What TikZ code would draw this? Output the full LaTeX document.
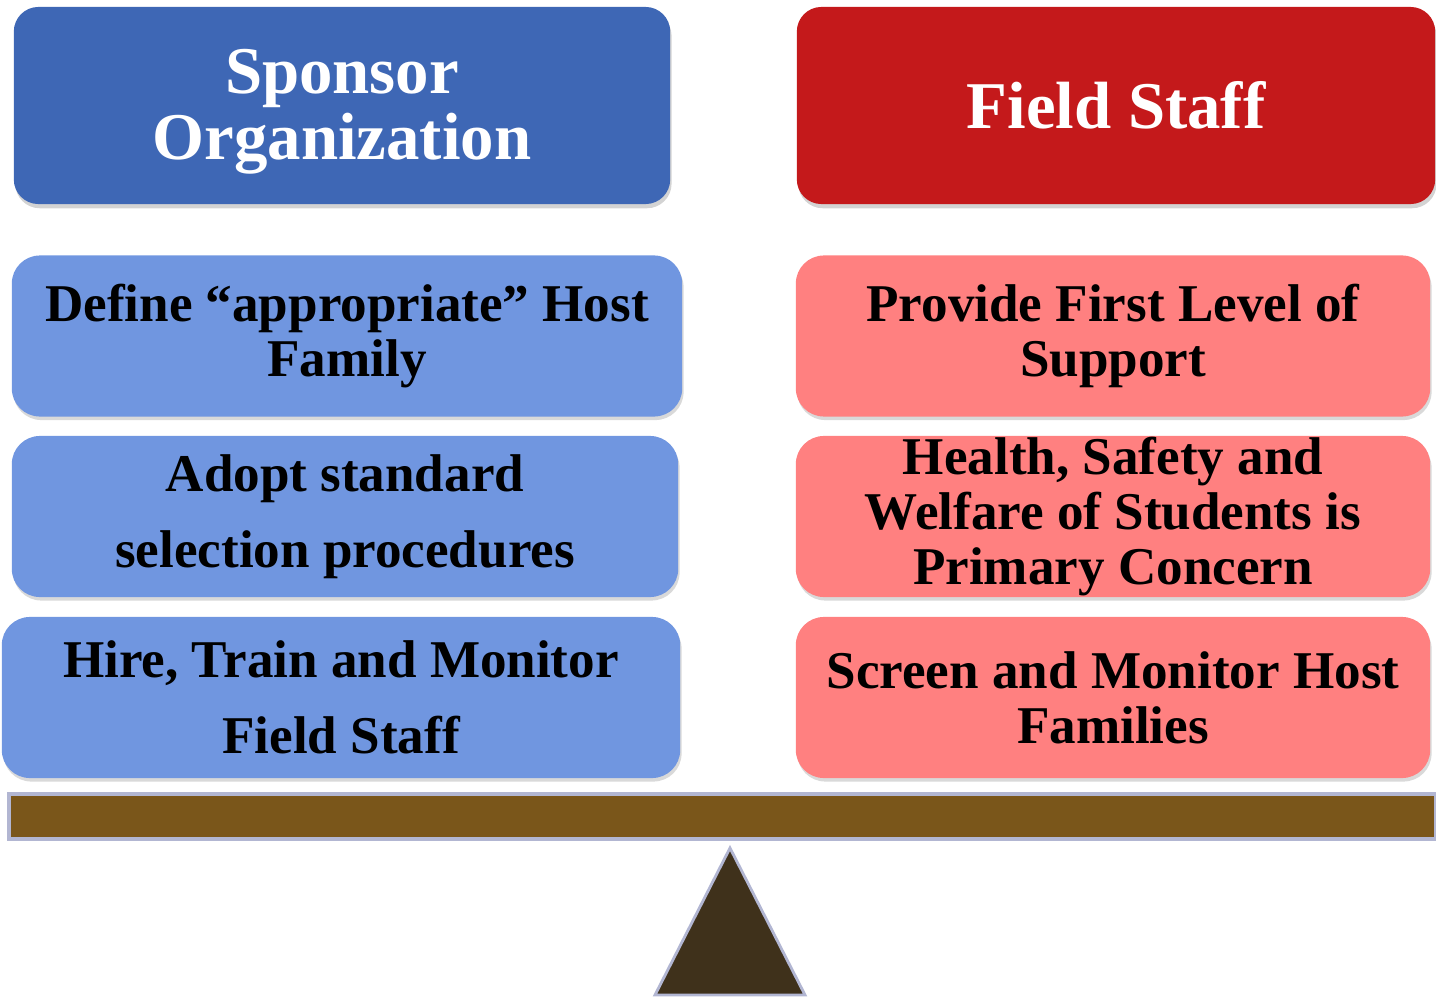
\documentclass[tikz,border=0pt]{standalone}
\usepackage{fontspec}
\setmainfont{Liberation Serif}
\usetikzlibrary{shadows}
\definecolor{hdblue}{HTML}{3E67B5}
\definecolor{hdred}{HTML}{C4191B}
\definecolor{bxblue}{HTML}{7096E0}
\definecolor{bxred}{HTML}{FF8080}
\definecolor{beamc}{HTML}{7A561A}
\definecolor{pivotc}{HTML}{3F311B}
\definecolor{edgec}{HTML}{B2B6D2}
\begin{document}
\begin{tikzpicture}[x=0.01cm,y=-0.01cm,
  head/.style={shape=rectangle,rounded corners=7pt,text=white,align=center,
    font=\bfseries\fontsize{19}{18.9}\selectfont,minimum height=1.97cm,
    drop shadow={opacity=0.35,shadow xshift=0.4pt,shadow yshift=-1.2pt}},
  headS/.style={head,fill=hdblue,minimum width=6.56cm},
  headF/.style={head,fill=hdred,minimum width=6.38cm},
  item/.style={shape=rectangle,rounded corners=8pt,text=black,align=center,
    font=\bfseries\fontsize{15.1}{15.6}\selectfont,minimum height=1.61cm,inner ysep=0pt,
    drop shadow={opacity=0.3,shadow xshift=0.4pt,shadow yshift=-1pt}},
  itemS/.style={item,fill=bxblue},
  itemF/.style={item,fill=bxred,minimum width=6.34cm}]
\useasboundingbox (0,0) rectangle (1436,997);

% headers
\node[headS] (S) at (342,105.5) {\rule{0pt}{0.85em}Sponsor\\Organization};
\node[headF] (F) at (1116,105.5) {Field Staff};

% sponsor duties
\node[itemS,minimum width=6.70cm] (S1) at (347,336) {Define “appropriate” Host\\Family};
\node[itemS,minimum width=6.66cm] (S2) at (345,516.5) {Adopt standard\\[6pt]selection procedures};
\node[itemS,minimum width=6.78cm] (S3) at (341,697.5) {Hire, Train and Monitor\\[6pt]Field Staff};

% field staff duties
\node[itemF] (F1) at (1113,336) {Provide First Level of\\Support};
\node[itemF] (F2) at (1113,516.5) {Health, Safety and\\Welfare of Students is\\Primary Concern};
\node[itemF] (F3) at (1113,697.5) {Screen and Monitor Host\\Families};

% the scale
\draw[edgec,line width=1.2pt,fill=beamc] (9,794) rectangle (1436,839);
\draw[edgec,line width=0.8pt,fill=pivotc] (730,848) -- (805,995) -- (655,995) -- cycle;
\end{tikzpicture}
\end{document}
